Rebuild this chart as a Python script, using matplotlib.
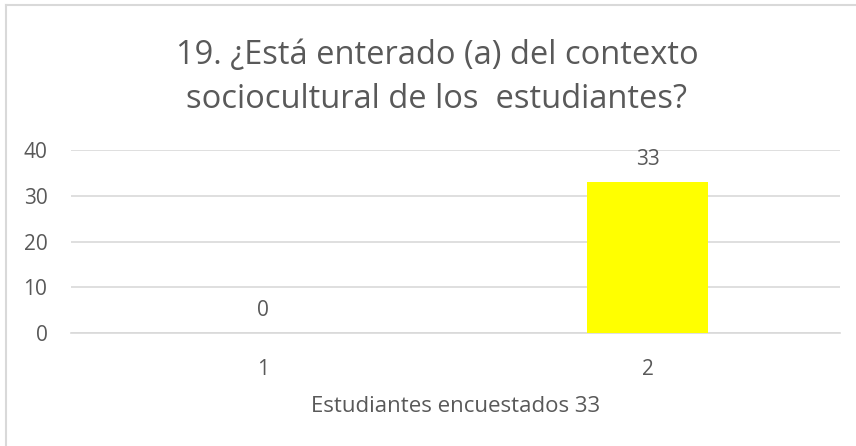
import matplotlib
matplotlib.use("Agg")
import matplotlib.pyplot as plt
from matplotlib.lines import Line2D

categories = ["1", "2"]
values = [0, 33]
title_lines = ["19. ¿Está enterado (a) del contexto", "sociocultural de los  estudiantes?"]
xlabel = "Estudiantes encuestados 33"
yticks = [0, 10, 20, 30, 40]

txt = "#595959"
plt.rcParams['font.family'] = ['Open Sans', 'DejaVu Sans']

W, H = 856, 446
fig = plt.figure(figsize=(W / 100, H / 100), dpi=100)
# chart-area border (only left and top visible in the reference)
fig.add_artist(Line2D([6 / W, 6 / W], [0, 1 - 5 / H], transform=fig.transFigure,
                      color="#d9d9d9", linewidth=1.5))
fig.add_artist(Line2D([6 / W, 1], [1 - 5 / H, 1 - 5 / H], transform=fig.transFigure,
                      color="#d9d9d9", linewidth=1.5))

ax = fig.add_axes([71 / W, 1 - 333 / H, (840 - 71) / W, (333 - 150) / H])
x = list(range(1, len(categories) + 1))
ax.bar(x, values, width=0.315, color="#ffff00", zorder=3)
for xi, v in zip(x, values):
    ax.annotate(str(v), (xi, v), xytext=(0, 12), textcoords="offset points",
                ha="center", va="baseline", fontsize=15, color=txt)
ax.set_xlim(0.5, 2.5)
ax.set_ylim(0, 40)
ax.set_yticks(yticks)
ax.set_xticks(x)
ax.set_xticklabels(categories)
ax.yaxis.grid(True, color="#d9d9d9", linewidth=1.2, zorder=0)
for s in ["top", "right", "left"]:
    ax.spines[s].set_visible(False)
ax.spines["bottom"].set_color("#d9d9d9")
ax.spines["bottom"].set_linewidth(1.2)
ax.tick_params(axis="both", length=0, labelsize=15, labelcolor=txt)
ax.tick_params(axis="x", pad=19)
ax.tick_params(axis="y", pad=17)
ax.set_xlabel(xlabel, fontsize=16, color=txt, labelpad=11)

fig.text(437 / W, 1 - 64 / H, title_lines[0], ha="center", va="baseline",
         fontsize=23.5, color=txt)
fig.text(437 / W, 1 - 108 / H, title_lines[1], ha="center", va="baseline",
         fontsize=23.5, color=txt)
fig.savefig("out.png", dpi=100)
